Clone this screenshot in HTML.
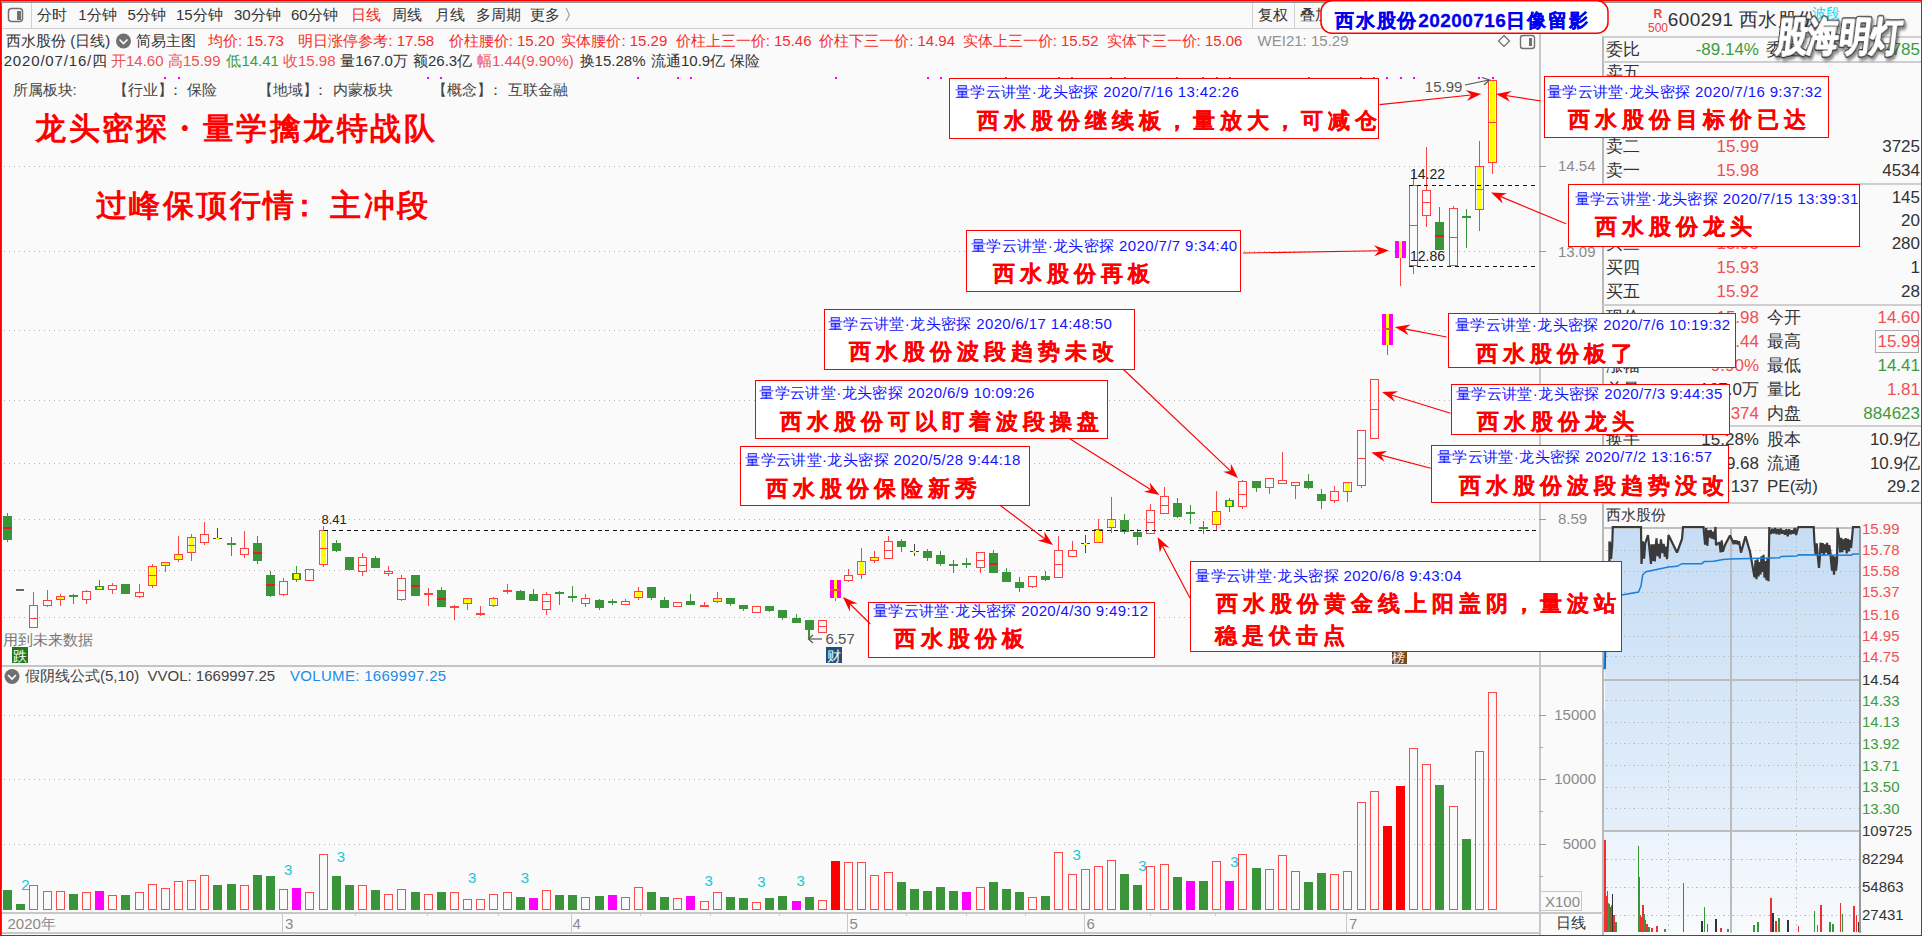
<!DOCTYPE html><html><head><meta charset="utf-8"><style>
html,body{margin:0;padding:0}body{width:1922px;height:936px;overflow:hidden;position:relative;background:#fafafa;font-family:"Liberation Sans",sans-serif}
.t{position:absolute;white-space:nowrap}
.bx{position:absolute;background:#fff;border:1px solid #ff0000;box-sizing:border-box}
svg{position:absolute;left:0;top:0}
</style></head><body>
<svg width="1922" height="936" viewBox="0 0 1922 936" shape-rendering="crispEdges">
<rect x="2" y="3" width="1918" height="26" fill="#f9f9f9"/>
<rect x="0" y="1" width="1922" height="2" fill="#8e9a9a"/>
<rect x="0" y="28" width="1540" height="1" fill="#cfcfcf"/>
<rect x="31" y="3" width="1" height="25" fill="#cfcfcf"/>
<rect x="1252" y="3" width="1" height="25" fill="#cfcfcf"/>
<rect x="1294" y="3" width="1" height="25" fill="#cfcfcf"/>
<rect x="8.5" y="8.5" width="14" height="13" rx="3" fill="none" stroke="#707070" stroke-width="1.5" shape-rendering="auto"/>
<rect x="17" y="11" width="3.5" height="8.5" fill="#707070"/>
<rect x="1539" y="29" width="2" height="907" fill="#c8c8c8"/>
<rect x="1602" y="36" width="1.5" height="900" fill="#b8b8b8"/>
<rect x="2" y="665" width="1602" height="1.5" fill="#c4c4c4"/>
<defs><pattern id="dots" x="4" y="0" width="5" height="10" patternUnits="userSpaceOnUse"><rect x="0" y="0" width="1.4" height="10" fill="#b4b4b4"/></pattern></defs>
<rect x="4" y="166" width="1533" height="1" fill="url(#dots)"/>
<rect x="1539" y="166" width="7" height="1" fill="#999"/>
<rect x="4" y="251" width="1533" height="1" fill="url(#dots)"/>
<rect x="1539" y="251" width="7" height="1" fill="#999"/>
<rect x="4" y="330" width="1533" height="1" fill="url(#dots)"/>
<rect x="1539" y="330" width="7" height="1" fill="#999"/>
<rect x="4" y="400" width="1533" height="1" fill="url(#dots)"/>
<rect x="1539" y="400" width="7" height="1" fill="#999"/>
<rect x="4" y="463" width="1533" height="1" fill="url(#dots)"/>
<rect x="1539" y="463" width="7" height="1" fill="#999"/>
<rect x="4" y="519" width="1533" height="1" fill="url(#dots)"/>
<rect x="1539" y="519" width="7" height="1" fill="#999"/>
<rect x="4" y="570" width="1533" height="1" fill="url(#dots)"/>
<rect x="1539" y="570" width="7" height="1" fill="#999"/>
<rect x="4" y="617" width="1533" height="1" fill="url(#dots)"/>
<rect x="1539" y="617" width="7" height="1" fill="#999"/>
<rect x="4" y="715" width="1533" height="1" fill="url(#dots)"/>
<rect x="1539" y="715" width="7" height="1" fill="#999"/>
<rect x="4" y="779" width="1533" height="1" fill="url(#dots)"/>
<rect x="1539" y="779" width="7" height="1" fill="#999"/>
<rect x="4" y="844" width="1533" height="1" fill="url(#dots)"/>
<rect x="1539" y="844" width="7" height="1" fill="#999"/>
<rect x="1539" y="747" width="4" height="1" fill="#aaa"/>
<rect x="1539" y="811" width="4" height="1" fill="#aaa"/>
<rect x="1539" y="876" width="4" height="1" fill="#aaa"/>
<rect x="2" y="912" width="1602" height="1.5" fill="#c8c8c8"/>
<rect x="2" y="932" width="1538" height="1.5" fill="#c8c8c8"/>
<rect x="282" y="913" width="1" height="19" fill="#c8c8c8"/>
<rect x="571" y="913" width="1" height="19" fill="#c8c8c8"/>
<rect x="847" y="913" width="1" height="19" fill="#c8c8c8"/>
<rect x="1084" y="913" width="1" height="19" fill="#c8c8c8"/>
<rect x="1346" y="913" width="1" height="19" fill="#c8c8c8"/>
<rect x="355" y="913" width="1" height="3" fill="#c8c8c8"/>
<rect x="427" y="913" width="1" height="3" fill="#c8c8c8"/>
<rect x="498" y="913" width="1" height="3" fill="#c8c8c8"/>
<rect x="640" y="913" width="1" height="3" fill="#c8c8c8"/>
<rect x="710" y="913" width="1" height="3" fill="#c8c8c8"/>
<rect x="779" y="913" width="1" height="3" fill="#c8c8c8"/>
<rect x="906" y="913" width="1" height="3" fill="#c8c8c8"/>
<rect x="966" y="913" width="1" height="3" fill="#c8c8c8"/>
<rect x="1025" y="913" width="1" height="3" fill="#c8c8c8"/>
<rect x="1150" y="913" width="1" height="3" fill="#c8c8c8"/>
<rect x="1215" y="913" width="1" height="3" fill="#c8c8c8"/>
<rect x="7" y="513" width="1" height="29" fill="#3a943a"/>
<rect x="3" y="516" width="9" height="24" fill="#3a943a"/>
<rect x="3" y="527" width="9" height="2" fill="#e02020"/>
<rect x="16" y="589" width="8" height="1.5" fill="#666"/>
<rect x="33" y="592" width="1" height="13" fill="#ff4040"/>
<rect x="29.5" y="605.5" width="8" height="22" fill="none" stroke="#ff4040"/>
<rect x="29" y="618" width="9" height="1" fill="#ff4040"/>
<rect x="47" y="590" width="1" height="10" fill="#ff4040"/>
<rect x="47" y="606" width="1" height="1" fill="#ff4040"/>
<rect x="43.5" y="600.5" width="8" height="5" fill="none" stroke="#ff4040"/>
<rect x="60" y="594" width="1" height="2" fill="#ff4040"/>
<rect x="60" y="600" width="1" height="6" fill="#ff4040"/>
<rect x="56.5" y="596.5" width="8" height="3" fill="#ffff00" stroke="#ff4040"/>
<rect x="73" y="594" width="1" height="10" fill="#3a943a"/>
<rect x="69" y="595" width="9" height="2" fill="#3a943a"/>
<rect x="86" y="590" width="1" height="1" fill="#ff4040"/>
<rect x="86" y="600" width="1" height="4" fill="#ff4040"/>
<rect x="82.5" y="591.5" width="8" height="8" fill="none" stroke="#ff4040"/>
<rect x="99" y="580" width="1" height="10" fill="#3a943a"/>
<rect x="95" y="586" width="9" height="4" fill="#3a943a"/>
<rect x="97" y="587" width="5" height="2" fill="#ffff00"/>
<rect x="112" y="583" width="1" height="2" fill="#ff4040"/>
<rect x="112" y="590" width="1" height="4" fill="#ff4040"/>
<rect x="108.5" y="585.5" width="8" height="4" fill="none" stroke="#ff4040"/>
<rect x="125" y="584" width="1" height="10" fill="#3a943a"/>
<rect x="121" y="584" width="9" height="10" fill="#3a943a"/>
<rect x="139" y="584" width="1" height="8" fill="#ff4040"/>
<rect x="139" y="597" width="1" height="1" fill="#ff4040"/>
<rect x="135.5" y="592.5" width="8" height="4" fill="none" stroke="#ff4040"/>
<rect x="152" y="564" width="1" height="2" fill="#ff4040"/>
<rect x="152" y="586" width="1" height="2" fill="#ff4040"/>
<rect x="148.5" y="566.5" width="8" height="19" fill="#fafafa" stroke="#ff4040"/>
<rect x="150" y="567" width="5" height="18" fill="#ffff00"/>
<rect x="148" y="575" width="9" height="1" fill="#ff4040"/>
<rect x="165" y="566" width="1" height="6" fill="#ff4040"/>
<rect x="161.5" y="562.5" width="8" height="3" fill="#ffff00" stroke="#ff4040"/>
<rect x="178" y="536" width="1" height="18" fill="#ff4040"/>
<rect x="178" y="560" width="1" height="2" fill="#ff4040"/>
<rect x="174.5" y="554.5" width="8" height="5" fill="#ffff00" stroke="#ff4040"/>
<rect x="191" y="534" width="1" height="3" fill="#ff4040"/>
<rect x="191" y="553" width="1" height="8" fill="#ff4040"/>
<rect x="187.5" y="537.5" width="8" height="15" fill="#fafafa" stroke="#ff4040"/>
<rect x="189" y="538" width="5" height="14" fill="#ffff00"/>
<rect x="187" y="545" width="9" height="1" fill="#ff4040"/>
<rect x="204" y="522" width="1" height="12" fill="#ff4040"/>
<rect x="204" y="543" width="1" height="2" fill="#ff4040"/>
<rect x="200.5" y="534.5" width="8" height="8" fill="none" stroke="#ff4040"/>
<rect x="217" y="528" width="1" height="11" fill="#444"/>
<rect x="213" y="538" width="9" height="1" fill="#444"/>
<rect x="216" y="537.5" width="3" height="2" fill="#ffff00"/>
<rect x="231" y="537" width="1" height="19" fill="#3a943a"/>
<rect x="227" y="543" width="9" height="2" fill="#3a943a"/>
<rect x="244" y="531" width="1" height="17" fill="#ff4040"/>
<rect x="244" y="555" width="1" height="3" fill="#ff4040"/>
<rect x="240.5" y="548.5" width="8" height="6" fill="none" stroke="#ff4040"/>
<rect x="257" y="536" width="1" height="28" fill="#3a943a"/>
<rect x="253" y="543" width="9" height="18" fill="#3a943a"/>
<rect x="253" y="552" width="9" height="2" fill="#e02020"/>
<rect x="270" y="571" width="1" height="26" fill="#3a943a"/>
<rect x="266" y="575" width="9" height="21" fill="#3a943a"/>
<rect x="266" y="584" width="9" height="2" fill="#e02020"/>
<rect x="283" y="578" width="1" height="3" fill="#ff4040"/>
<rect x="283" y="595" width="1" height="1" fill="#ff4040"/>
<rect x="279.5" y="581.5" width="8" height="13" fill="none" stroke="#ff4040"/>
<rect x="296" y="566" width="1" height="14" fill="#3a943a"/>
<rect x="296" y="580" width="1" height="2" fill="#3a943a"/>
<rect x="292" y="573" width="9" height="7" fill="#3a943a"/>
<rect x="294" y="574" width="5" height="5" fill="#ffff00"/>
<rect x="305.5" y="569.5" width="8" height="11" fill="none" stroke="#ff4040"/>
<rect x="323" y="526" width="1" height="4" fill="#ff4040"/>
<rect x="323" y="565" width="1" height="2" fill="#ff4040"/>
<rect x="319.5" y="530.5" width="8" height="34" fill="#fafafa" stroke="#ff4040"/>
<rect x="321" y="531" width="5" height="33" fill="#ffff00"/>
<rect x="319" y="548" width="9" height="1" fill="#ff4040"/>
<rect x="336" y="540" width="1" height="12" fill="#3a943a"/>
<rect x="332" y="543" width="9" height="8" fill="#3a943a"/>
<rect x="349" y="557" width="1" height="13" fill="#3a943a"/>
<rect x="345" y="557" width="9" height="13" fill="#3a943a"/>
<rect x="362" y="553" width="1" height="4" fill="#ff4040"/>
<rect x="362" y="572" width="1" height="4" fill="#ff4040"/>
<rect x="358.5" y="557.5" width="8" height="14" fill="none" stroke="#ff4040"/>
<rect x="358" y="565" width="9" height="1" fill="#ff4040"/>
<rect x="375" y="556" width="1" height="12" fill="#3a943a"/>
<rect x="371" y="558" width="9" height="10" fill="#3a943a"/>
<rect x="388" y="566" width="1" height="5" fill="#ff4040"/>
<rect x="388" y="574" width="1" height="2" fill="#ff4040"/>
<rect x="384.5" y="571.5" width="8" height="2" fill="none" stroke="#ff4040"/>
<rect x="401" y="575" width="1" height="3" fill="#ff4040"/>
<rect x="401" y="600" width="1" height="1" fill="#ff4040"/>
<rect x="397.5" y="578.5" width="8" height="21" fill="none" stroke="#ff4040"/>
<rect x="397" y="590" width="9" height="1" fill="#ff4040"/>
<rect x="415" y="575" width="1" height="21" fill="#3a943a"/>
<rect x="411" y="575" width="9" height="21" fill="#3a943a"/>
<rect x="411" y="585" width="9" height="2" fill="#e02020"/>
<rect x="428" y="588" width="1" height="18" fill="#ff4040"/>
<rect x="424" y="593" width="9" height="2" fill="#ff4040"/>
<rect x="441" y="587" width="1" height="20" fill="#3a943a"/>
<rect x="437" y="590" width="9" height="17" fill="#3a943a"/>
<rect x="437" y="598" width="9" height="2" fill="#e02020"/>
<rect x="454" y="605" width="1" height="15" fill="#ff4040"/>
<rect x="450" y="606" width="9" height="2" fill="#ff4040"/>
<rect x="467" y="604" width="1" height="6" fill="#ff4040"/>
<rect x="463.5" y="598.5" width="8" height="5" fill="#ffff00" stroke="#ff4040"/>
<rect x="480" y="606" width="1" height="10" fill="#ff4040"/>
<rect x="476" y="613" width="9" height="2" fill="#ff4040"/>
<rect x="493" y="597" width="1" height="1" fill="#ff4040"/>
<rect x="493" y="606" width="1" height="1" fill="#ff4040"/>
<rect x="489.5" y="598.5" width="8" height="7" fill="#fafafa" stroke="#ff4040"/>
<rect x="491" y="599" width="5" height="6" fill="#ffff00"/>
<rect x="507" y="584" width="1" height="6" fill="#ff4040"/>
<rect x="507" y="592" width="1" height="2" fill="#ff4040"/>
<rect x="503.5" y="590.5" width="8" height="1" fill="#ffff00" stroke="#ff4040"/>
<rect x="520" y="590" width="1" height="10" fill="#3a943a"/>
<rect x="516" y="591" width="9" height="9" fill="#3a943a"/>
<rect x="533" y="589" width="1" height="12" fill="#3a943a"/>
<rect x="529" y="594" width="9" height="7" fill="#3a943a"/>
<rect x="546" y="592" width="1" height="2" fill="#ff4040"/>
<rect x="546" y="610" width="1" height="5" fill="#ff4040"/>
<rect x="542.5" y="594.5" width="8" height="15" fill="none" stroke="#ff4040"/>
<rect x="542" y="601" width="9" height="1" fill="#ff4040"/>
<rect x="559" y="591" width="1" height="14" fill="#3a943a"/>
<rect x="555" y="592" width="9" height="2" fill="#3a943a"/>
<rect x="572" y="586" width="1" height="16" fill="#3a943a"/>
<rect x="568" y="596" width="9" height="2" fill="#3a943a"/>
<rect x="585" y="594" width="1" height="4" fill="#ff4040"/>
<rect x="585" y="604" width="1" height="3" fill="#ff4040"/>
<rect x="581.5" y="598.5" width="8" height="5" fill="none" stroke="#ff4040"/>
<rect x="599" y="599" width="1" height="11" fill="#3a943a"/>
<rect x="595" y="600" width="9" height="8" fill="#3a943a"/>
<rect x="612" y="599" width="1" height="6" fill="#3a943a"/>
<rect x="608" y="601" width="9" height="2" fill="#3a943a"/>
<rect x="625" y="599" width="1" height="2" fill="#ff4040"/>
<rect x="621.5" y="601.5" width="8" height="3" fill="none" stroke="#ff4040"/>
<rect x="638" y="587" width="1" height="4" fill="#ff4040"/>
<rect x="638" y="598" width="1" height="2" fill="#ff4040"/>
<rect x="634.5" y="591.5" width="8" height="6" fill="#fafafa" stroke="#ff4040"/>
<rect x="636" y="592" width="5" height="5" fill="#ffff00"/>
<rect x="651" y="587" width="1" height="13" fill="#3a943a"/>
<rect x="647" y="587" width="9" height="11" fill="#3a943a"/>
<rect x="664" y="597" width="1" height="11" fill="#3a943a"/>
<rect x="660" y="600" width="9" height="8" fill="#3a943a"/>
<rect x="673.5" y="602.5" width="8" height="4" fill="none" stroke="#ff4040"/>
<rect x="690" y="594" width="1" height="11" fill="#3a943a"/>
<rect x="686" y="601" width="9" height="4" fill="#3a943a"/>
<rect x="704" y="602" width="1" height="3" fill="#ff4040"/>
<rect x="700.5" y="605.5" width="8" height="1" fill="none" stroke="#ff4040"/>
<rect x="717" y="592" width="1" height="6" fill="#ff4040"/>
<rect x="717" y="602" width="1" height="1" fill="#ff4040"/>
<rect x="713.5" y="598.5" width="8" height="3" fill="#ffff00" stroke="#ff4040"/>
<rect x="730" y="598" width="1" height="8" fill="#3a943a"/>
<rect x="726" y="598" width="9" height="6" fill="#3a943a"/>
<rect x="743" y="605" width="1" height="6" fill="#3a943a"/>
<rect x="739" y="605" width="9" height="4" fill="#3a943a"/>
<rect x="752.5" y="606.5" width="8" height="6" fill="none" stroke="#ff4040"/>
<rect x="769" y="606" width="1" height="6" fill="#3a943a"/>
<rect x="765" y="606" width="9" height="5" fill="#3a943a"/>
<rect x="782" y="610" width="1" height="10" fill="#3a943a"/>
<rect x="778" y="610" width="9" height="8" fill="#3a943a"/>
<rect x="796" y="614" width="1" height="9" fill="#3a943a"/>
<rect x="792" y="618" width="9" height="5" fill="#3a943a"/>
<rect x="809" y="620" width="1" height="18" fill="#3a943a"/>
<rect x="805" y="620" width="9" height="10" fill="#3a943a"/>
<rect x="818.5" y="620.5" width="8" height="12" fill="none" stroke="#ff4040"/>
<rect x="818" y="626" width="9" height="1" fill="#ff4040"/>
<rect x="835" y="598" width="1" height="3" fill="#ff4040"/>
<rect x="830" y="580" width="11" height="18" fill="#ff00ff"/>
<rect x="834" y="580" width="3" height="18" fill="#ffff00"/>
<rect x="830" y="589" width="11" height="1.5" fill="#ff4040"/>
<rect x="848" y="569" width="1" height="6" fill="#ff4040"/>
<rect x="848" y="581" width="1" height="1" fill="#ff4040"/>
<rect x="844.5" y="575.5" width="8" height="5" fill="none" stroke="#ff4040"/>
<rect x="861" y="548" width="1" height="13" fill="#ff4040"/>
<rect x="861" y="575" width="1" height="4" fill="#ff4040"/>
<rect x="857.5" y="561.5" width="8" height="13" fill="#fafafa" stroke="#ff4040"/>
<rect x="859" y="562" width="5" height="12" fill="#ffff00"/>
<rect x="874" y="551" width="1" height="6" fill="#ff4040"/>
<rect x="874" y="561" width="1" height="2" fill="#ff4040"/>
<rect x="870.5" y="557.5" width="8" height="3" fill="#ffff00" stroke="#ff4040"/>
<rect x="888" y="536" width="1" height="5" fill="#ff4040"/>
<rect x="884.5" y="541.5" width="8" height="17" fill="none" stroke="#ff4040"/>
<rect x="884" y="550" width="9" height="1" fill="#ff4040"/>
<rect x="901" y="539" width="1" height="13" fill="#3a943a"/>
<rect x="897" y="541" width="9" height="6" fill="#3a943a"/>
<rect x="914" y="544" width="1" height="12" fill="#444"/>
<rect x="910" y="551" width="9" height="1" fill="#444"/>
<rect x="913" y="550.5" width="3" height="2" fill="#ffff00"/>
<rect x="927" y="549" width="1" height="12" fill="#3a943a"/>
<rect x="923" y="551" width="9" height="7" fill="#3a943a"/>
<rect x="940" y="551" width="1" height="15" fill="#3a943a"/>
<rect x="936" y="555" width="9" height="9" fill="#3a943a"/>
<rect x="953" y="560" width="1" height="13" fill="#3a943a"/>
<rect x="949" y="564" width="9" height="2" fill="#3a943a"/>
<rect x="966" y="558" width="1" height="10" fill="#3a943a"/>
<rect x="962" y="563" width="9" height="2" fill="#3a943a"/>
<rect x="980" y="568" width="1" height="5" fill="#ff4040"/>
<rect x="976.5" y="552.5" width="8" height="15" fill="none" stroke="#ff4040"/>
<rect x="976" y="560" width="9" height="1" fill="#ff4040"/>
<rect x="993" y="550" width="1" height="23" fill="#3a943a"/>
<rect x="989" y="553" width="9" height="20" fill="#3a943a"/>
<rect x="989" y="563" width="9" height="2" fill="#e02020"/>
<rect x="1006" y="568" width="1" height="14" fill="#3a943a"/>
<rect x="1002" y="572" width="9" height="10" fill="#3a943a"/>
<rect x="1019" y="577" width="1" height="15" fill="#3a943a"/>
<rect x="1015" y="582" width="9" height="6" fill="#3a943a"/>
<rect x="1032" y="587" width="1" height="1" fill="#ff4040"/>
<rect x="1028.5" y="576.5" width="8" height="10" fill="none" stroke="#ff4040"/>
<rect x="1045" y="571" width="1" height="10" fill="#3a943a"/>
<rect x="1041" y="576" width="9" height="4" fill="#3a943a"/>
<rect x="1058" y="536" width="1" height="14" fill="#ff4040"/>
<rect x="1054.5" y="550.5" width="8" height="27" fill="none" stroke="#ff4040"/>
<rect x="1054" y="564" width="9" height="1" fill="#ff4040"/>
<rect x="1072" y="541" width="1" height="9" fill="#ff4040"/>
<rect x="1068.5" y="550.5" width="8" height="6" fill="none" stroke="#ff4040"/>
<rect x="1085" y="535" width="1" height="18" fill="#444"/>
<rect x="1081" y="543" width="9" height="1" fill="#444"/>
<rect x="1084" y="542.5" width="3" height="2" fill="#ffff00"/>
<rect x="1098" y="519" width="1" height="10" fill="#ff4040"/>
<rect x="1094.5" y="529.5" width="8" height="13" fill="#fafafa" stroke="#ff4040"/>
<rect x="1096" y="530" width="5" height="12" fill="#ffff00"/>
<rect x="1111" y="497" width="1" height="22" fill="#ff4040"/>
<rect x="1111" y="528" width="1" height="5" fill="#ff4040"/>
<rect x="1107.5" y="519.5" width="8" height="8" fill="#fafafa" stroke="#ff4040"/>
<rect x="1109" y="520" width="5" height="7" fill="#ffff00"/>
<rect x="1124" y="514" width="1" height="20" fill="#3a943a"/>
<rect x="1120" y="520" width="9" height="12" fill="#3a943a"/>
<rect x="1137" y="529" width="1" height="16" fill="#3a943a"/>
<rect x="1133" y="532" width="9" height="5" fill="#3a943a"/>
<rect x="1150" y="504" width="1" height="6" fill="#ff4040"/>
<rect x="1146.5" y="510.5" width="8" height="23" fill="none" stroke="#ff4040"/>
<rect x="1146" y="522" width="9" height="1" fill="#ff4040"/>
<rect x="1164" y="487" width="1" height="9" fill="#ff4040"/>
<rect x="1160.5" y="496.5" width="8" height="17" fill="none" stroke="#ff4040"/>
<rect x="1160" y="505" width="9" height="1" fill="#ff4040"/>
<rect x="1177" y="498" width="1" height="20" fill="#3a943a"/>
<rect x="1173" y="503" width="9" height="14" fill="#3a943a"/>
<rect x="1190" y="505" width="1" height="19" fill="#3a943a"/>
<rect x="1186" y="512" width="9" height="2" fill="#3a943a"/>
<rect x="1203" y="521" width="1" height="13" fill="#3a943a"/>
<rect x="1199" y="527" width="9" height="2" fill="#3a943a"/>
<rect x="1216" y="491" width="1" height="20" fill="#ff4040"/>
<rect x="1216" y="525" width="1" height="5" fill="#ff4040"/>
<rect x="1212.5" y="511.5" width="8" height="13" fill="#fafafa" stroke="#ff4040"/>
<rect x="1214" y="512" width="5" height="12" fill="#ffff00"/>
<rect x="1229" y="498" width="1" height="9" fill="#3a943a"/>
<rect x="1229" y="507" width="1" height="5" fill="#3a943a"/>
<rect x="1225" y="500" width="9" height="7" fill="#3a943a"/>
<rect x="1227" y="501" width="5" height="5" fill="#ffff00"/>
<rect x="1242" y="480" width="1" height="1" fill="#ff4040"/>
<rect x="1242" y="507" width="1" height="2" fill="#ff4040"/>
<rect x="1238.5" y="481.5" width="8" height="25" fill="none" stroke="#ff4040"/>
<rect x="1238" y="494" width="9" height="1" fill="#ff4040"/>
<rect x="1256" y="481" width="1" height="11" fill="#3a943a"/>
<rect x="1252" y="481" width="9" height="7" fill="#3a943a"/>
<rect x="1269" y="488" width="1" height="6" fill="#ff4040"/>
<rect x="1265.5" y="478.5" width="8" height="9" fill="none" stroke="#ff4040"/>
<rect x="1282" y="452" width="1" height="28" fill="#ff4040"/>
<rect x="1278.5" y="480.5" width="8" height="3" fill="none" stroke="#ff4040"/>
<rect x="1295" y="486" width="1" height="13" fill="#ff4040"/>
<rect x="1291.5" y="482.5" width="8" height="3" fill="none" stroke="#ff4040"/>
<rect x="1308" y="474" width="1" height="15" fill="#3a943a"/>
<rect x="1304" y="481" width="9" height="7" fill="#3a943a"/>
<rect x="1321" y="489" width="1" height="20" fill="#3a943a"/>
<rect x="1317" y="494" width="9" height="7" fill="#3a943a"/>
<rect x="1334" y="486" width="1" height="5" fill="#ff4040"/>
<rect x="1334" y="501" width="1" height="2" fill="#ff4040"/>
<rect x="1330.5" y="491.5" width="8" height="9" fill="none" stroke="#ff4040"/>
<rect x="1347" y="492" width="1" height="10" fill="#ff4040"/>
<rect x="1343.5" y="482.5" width="8" height="9" fill="#fafafa" stroke="#ff4040"/>
<rect x="1345" y="483" width="5" height="8" fill="#ffff00"/>
<rect x="1361" y="486" width="1" height="2" fill="#ff4040"/>
<rect x="1357.5" y="430.5" width="8" height="55" fill="none" stroke="#ff4040"/>
<rect x="1357" y="458" width="9" height="1" fill="#ff4040"/>
<rect x="1370.5" y="379.5" width="8" height="59" fill="none" stroke="#ff4040"/>
<rect x="1370" y="409" width="9" height="1" fill="#ff4040"/>
<rect x="1387" y="345" width="1" height="10" fill="#ff4040"/>
<rect x="1382" y="314" width="11" height="31" fill="#ff00ff"/>
<rect x="1386" y="314" width="3" height="31" fill="#ffff00"/>
<rect x="1382" y="328" width="11" height="1.5" fill="#ff4040"/>
<rect x="1400" y="258" width="1" height="28" fill="#ff4040"/>
<rect x="1395" y="241" width="11" height="17" fill="#ff00ff"/>
<rect x="1399" y="241" width="3" height="17" fill="#ffff00"/>
<rect x="1413" y="172" width="1" height="13" fill="#ff4040"/>
<rect x="1413" y="266" width="1" height="8" fill="#ff4040"/>
<rect x="1409.5" y="185.5" width="8" height="80" fill="none" stroke="#ff4040"/>
<rect x="1409" y="225" width="9" height="1" fill="#ff4040"/>
<rect x="1426" y="147" width="1" height="43" fill="#ff4040"/>
<rect x="1426" y="216" width="1" height="11" fill="#ff4040"/>
<rect x="1422.5" y="190.5" width="8" height="25" fill="none" stroke="#ff4040"/>
<rect x="1422" y="202" width="9" height="1" fill="#ff4040"/>
<rect x="1439" y="207" width="1" height="43" fill="#3a943a"/>
<rect x="1435" y="222" width="9" height="28" fill="#3a943a"/>
<rect x="1435" y="235" width="9" height="2" fill="#e02020"/>
<rect x="1453" y="206" width="1" height="2" fill="#ff4040"/>
<rect x="1449.5" y="208.5" width="8" height="57" fill="none" stroke="#ff4040"/>
<rect x="1449" y="237" width="9" height="1" fill="#ff4040"/>
<rect x="1466" y="209" width="1" height="39" fill="#3a943a"/>
<rect x="1462" y="216" width="9" height="2" fill="#3a943a"/>
<rect x="1479" y="141" width="1" height="25" fill="#ff4040"/>
<rect x="1479" y="210" width="1" height="21" fill="#ff4040"/>
<rect x="1475.5" y="166.5" width="8" height="43" fill="#fafafa" stroke="#ff4040"/>
<rect x="1477" y="167" width="5" height="42" fill="#ffff00"/>
<rect x="1475" y="189" width="9" height="1" fill="#ff4040"/>
<rect x="1492" y="163" width="1" height="11" fill="#ff4040"/>
<rect x="1488.5" y="80.5" width="8" height="82" fill="#fafafa" stroke="#ff4040"/>
<rect x="1490" y="81" width="5" height="81" fill="#ffff00"/>
<rect x="1488" y="122" width="9" height="1" fill="#ff4040"/>
<line x1="324" y1="530.5" x2="1537" y2="530.5" stroke="#111" stroke-width="1.3" stroke-dasharray="4,3.6"/>
<line x1="1409" y1="185.5" x2="1537" y2="185.5" stroke="#111" stroke-width="1.3" stroke-dasharray="4,3.6"/>
<line x1="1409" y1="266.5" x2="1537" y2="266.5" stroke="#111" stroke-width="1.3" stroke-dasharray="4,3.6"/>
<rect x="164" y="77" width="2" height="2" fill="#ff00ff"/>
<rect x="178" y="77" width="2" height="2" fill="#ff00ff"/>
<rect x="427" y="77" width="2" height="2" fill="#ff00ff"/>
<rect x="440" y="77" width="2" height="2" fill="#ff00ff"/>
<rect x="637" y="77" width="2" height="2" fill="#ff00ff"/>
<rect x="677" y="77" width="2" height="2" fill="#ff00ff"/>
<rect x="690" y="77" width="2" height="2" fill="#ff00ff"/>
<rect x="835" y="77" width="2" height="2" fill="#ff00ff"/>
<rect x="927" y="77" width="2" height="2" fill="#ff00ff"/>
<rect x="940" y="77" width="2" height="2" fill="#ff00ff"/>
<rect x="1005" y="77" width="2" height="2" fill="#ff00ff"/>
<rect x="1058" y="77" width="2" height="2" fill="#ff00ff"/>
<rect x="1071" y="77" width="2" height="2" fill="#ff00ff"/>
<rect x="1110" y="77" width="2" height="2" fill="#ff00ff"/>
<rect x="1124" y="77" width="2" height="2" fill="#ff00ff"/>
<rect x="1176" y="77" width="2" height="2" fill="#ff00ff"/>
<rect x="1202" y="77" width="2" height="2" fill="#ff00ff"/>
<rect x="1216" y="77" width="2" height="2" fill="#ff00ff"/>
<rect x="1229" y="77" width="2" height="2" fill="#ff00ff"/>
<rect x="1308" y="77" width="2" height="2" fill="#ff00ff"/>
<rect x="1360" y="77" width="2" height="2" fill="#ff00ff"/>
<rect x="1373" y="77" width="2" height="2" fill="#ff00ff"/>
<rect x="1386" y="77" width="2" height="2" fill="#ff00ff"/>
<rect x="1400" y="77" width="2" height="2" fill="#ff00ff"/>
<rect x="1413" y="77" width="2" height="2" fill="#ff00ff"/>
<rect x="1478" y="77" width="2" height="2" fill="#ff00ff"/>
<rect x="1492" y="77" width="2" height="2" fill="#ff00ff"/>
<rect x="3" y="890" width="9" height="20" fill="#3a943a"/>
<rect x="16" y="904" width="9" height="6" fill="#3a943a"/>
<rect x="29.5" y="885.5" width="8" height="24" fill="none" stroke="#ff4a4a"/>
<rect x="43.5" y="891.5" width="8" height="18" fill="none" stroke="#ff4a4a"/>
<rect x="56.5" y="891.5" width="8" height="18" fill="none" stroke="#ff4a4a"/>
<rect x="69" y="894" width="9" height="16" fill="#3a943a"/>
<rect x="82.5" y="892.5" width="8" height="17" fill="none" stroke="#ff4a4a"/>
<rect x="95" y="891" width="9" height="19" fill="#ff00ff"/>
<rect x="108.5" y="895.5" width="8" height="14" fill="none" stroke="#ff4a4a"/>
<rect x="121" y="895" width="9" height="15" fill="#3a943a"/>
<rect x="135.5" y="892.5" width="8" height="17" fill="none" stroke="#ff4a4a"/>
<rect x="148.5" y="884.5" width="8" height="25" fill="none" stroke="#ff4a4a"/>
<rect x="161.5" y="888.5" width="8" height="21" fill="none" stroke="#ff4a4a"/>
<rect x="174.5" y="881.5" width="8" height="28" fill="none" stroke="#ff4a4a"/>
<rect x="187.5" y="880.5" width="8" height="29" fill="none" stroke="#ff4a4a"/>
<rect x="200.5" y="875.5" width="8" height="34" fill="none" stroke="#ff4a4a"/>
<rect x="213" y="885" width="9" height="25" fill="#3a943a"/>
<rect x="227" y="884" width="9" height="26" fill="#3a943a"/>
<rect x="240.5" y="885.5" width="8" height="24" fill="none" stroke="#ff4a4a"/>
<rect x="253" y="875" width="9" height="35" fill="#3a943a"/>
<rect x="266" y="876" width="9" height="34" fill="#3a943a"/>
<rect x="279.5" y="889.5" width="8" height="20" fill="none" stroke="#ff4a4a"/>
<rect x="292" y="888" width="9" height="22" fill="#ff00ff"/>
<rect x="305.5" y="892.5" width="8" height="17" fill="none" stroke="#ff4a4a"/>
<rect x="319.5" y="854.5" width="8" height="55" fill="none" stroke="#ff4a4a"/>
<rect x="332" y="876" width="9" height="34" fill="#3a943a"/>
<rect x="345" y="885" width="9" height="25" fill="#3a943a"/>
<rect x="358.5" y="885.5" width="8" height="24" fill="none" stroke="#ff4a4a"/>
<rect x="371" y="890" width="9" height="20" fill="#3a943a"/>
<rect x="384.5" y="894.5" width="8" height="15" fill="none" stroke="#ff4a4a"/>
<rect x="397.5" y="889.5" width="8" height="20" fill="none" stroke="#ff4a4a"/>
<rect x="411" y="892" width="9" height="18" fill="#3a943a"/>
<rect x="424.5" y="894.5" width="8" height="15" fill="none" stroke="#ff4a4a"/>
<rect x="437" y="892" width="9" height="18" fill="#3a943a"/>
<rect x="450.5" y="892.5" width="8" height="17" fill="none" stroke="#ff4a4a"/>
<rect x="463.5" y="899.5" width="8" height="10" fill="none" stroke="#ff4a4a"/>
<rect x="476.5" y="899.5" width="8" height="10" fill="none" stroke="#ff4a4a"/>
<rect x="489.5" y="894.5" width="8" height="15" fill="none" stroke="#ff4a4a"/>
<rect x="503.5" y="892.5" width="8" height="17" fill="none" stroke="#ff4a4a"/>
<rect x="516" y="897" width="9" height="13" fill="#3a943a"/>
<rect x="529" y="898" width="9" height="12" fill="#ff00ff"/>
<rect x="542.5" y="890.5" width="8" height="19" fill="none" stroke="#ff4a4a"/>
<rect x="555" y="895" width="9" height="15" fill="#3a943a"/>
<rect x="568" y="895" width="9" height="15" fill="#3a943a"/>
<rect x="581.5" y="897.5" width="8" height="12" fill="none" stroke="#ff4a4a"/>
<rect x="595" y="896" width="9" height="14" fill="#3a943a"/>
<rect x="608" y="895" width="9" height="15" fill="#ff00ff"/>
<rect x="621.5" y="897.5" width="8" height="12" fill="none" stroke="#ff4a4a"/>
<rect x="634.5" y="887.5" width="8" height="22" fill="none" stroke="#ff4a4a"/>
<rect x="647" y="892" width="9" height="18" fill="#3a943a"/>
<rect x="660" y="897" width="9" height="13" fill="#3a943a"/>
<rect x="673.5" y="898.5" width="8" height="11" fill="none" stroke="#ff4a4a"/>
<rect x="686" y="896" width="9" height="14" fill="#ff00ff"/>
<rect x="700.5" y="901.5" width="8" height="8" fill="none" stroke="#ff4a4a"/>
<rect x="713.5" y="892.5" width="8" height="17" fill="none" stroke="#ff4a4a"/>
<rect x="726" y="897" width="9" height="13" fill="#3a943a"/>
<rect x="739" y="898" width="9" height="12" fill="#3a943a"/>
<rect x="752.5" y="902.5" width="8" height="7" fill="none" stroke="#ff4a4a"/>
<rect x="765" y="898" width="9" height="12" fill="#3a943a"/>
<rect x="778" y="896" width="9" height="14" fill="#3a943a"/>
<rect x="792" y="901" width="9" height="9" fill="#ff00ff"/>
<rect x="805" y="897" width="9" height="13" fill="#3a943a"/>
<rect x="818.5" y="900.5" width="8" height="9" fill="none" stroke="#ff4a4a"/>
<rect x="831" y="861" width="9" height="49" fill="#ff0000"/>
<rect x="844.5" y="862.5" width="8" height="47" fill="none" stroke="#ff4a4a"/>
<rect x="857.5" y="862.5" width="8" height="47" fill="none" stroke="#ff4a4a"/>
<rect x="870.5" y="875.5" width="8" height="34" fill="none" stroke="#ff4a4a"/>
<rect x="884.5" y="872.5" width="8" height="37" fill="none" stroke="#ff4a4a"/>
<rect x="897" y="882" width="9" height="28" fill="#3a943a"/>
<rect x="910" y="889" width="9" height="21" fill="#3a943a"/>
<rect x="923" y="891" width="9" height="19" fill="#3a943a"/>
<rect x="936" y="887" width="9" height="23" fill="#3a943a"/>
<rect x="949" y="891" width="9" height="19" fill="#3a943a"/>
<rect x="962" y="892" width="9" height="18" fill="#ff00ff"/>
<rect x="976.5" y="887.5" width="8" height="22" fill="none" stroke="#ff4a4a"/>
<rect x="989" y="882" width="9" height="28" fill="#3a943a"/>
<rect x="1002" y="889" width="9" height="21" fill="#3a943a"/>
<rect x="1015" y="892" width="9" height="18" fill="#3a943a"/>
<rect x="1028.5" y="897.5" width="8" height="12" fill="none" stroke="#ff4a4a"/>
<rect x="1041" y="896" width="9" height="14" fill="#3a943a"/>
<rect x="1054.5" y="852.5" width="8" height="57" fill="none" stroke="#ff4a4a"/>
<rect x="1068.5" y="874.5" width="8" height="35" fill="none" stroke="#ff4a4a"/>
<rect x="1081.5" y="869.5" width="8" height="40" fill="none" stroke="#ff4a4a"/>
<rect x="1094.5" y="866.5" width="8" height="43" fill="none" stroke="#ff4a4a"/>
<rect x="1107.5" y="860.5" width="8" height="49" fill="none" stroke="#ff4a4a"/>
<rect x="1120" y="874" width="9" height="36" fill="#3a943a"/>
<rect x="1133" y="885" width="9" height="25" fill="#3a943a"/>
<rect x="1146.5" y="866.5" width="8" height="43" fill="none" stroke="#ff4a4a"/>
<rect x="1160.5" y="864.5" width="8" height="45" fill="none" stroke="#ff4a4a"/>
<rect x="1173" y="877" width="9" height="33" fill="#3a943a"/>
<rect x="1186" y="881" width="9" height="29" fill="#ff00ff"/>
<rect x="1199" y="881" width="9" height="29" fill="#3a943a"/>
<rect x="1212.5" y="861.5" width="8" height="48" fill="none" stroke="#ff4a4a"/>
<rect x="1225" y="881" width="9" height="29" fill="#ff00ff"/>
<rect x="1238.5" y="854.5" width="8" height="55" fill="none" stroke="#ff4a4a"/>
<rect x="1252" y="868" width="9" height="42" fill="#3a943a"/>
<rect x="1265.5" y="869.5" width="8" height="40" fill="none" stroke="#ff4a4a"/>
<rect x="1278.5" y="855.5" width="8" height="54" fill="none" stroke="#ff4a4a"/>
<rect x="1291.5" y="871.5" width="8" height="38" fill="none" stroke="#ff4a4a"/>
<rect x="1304" y="882" width="9" height="28" fill="#3a943a"/>
<rect x="1317" y="873" width="9" height="37" fill="#3a943a"/>
<rect x="1330.5" y="874.5" width="8" height="35" fill="none" stroke="#ff4a4a"/>
<rect x="1343.5" y="871.5" width="8" height="38" fill="none" stroke="#ff4a4a"/>
<rect x="1357.5" y="802.5" width="8" height="107" fill="none" stroke="#ff4a4a"/>
<rect x="1370.5" y="791.5" width="8" height="118" fill="none" stroke="#ff4a4a"/>
<rect x="1383" y="826" width="9" height="84" fill="#ff0000"/>
<rect x="1396" y="786" width="9" height="124" fill="#ff0000"/>
<rect x="1409.5" y="748.5" width="8" height="161" fill="none" stroke="#ff4a4a"/>
<rect x="1422.5" y="764.5" width="8" height="145" fill="none" stroke="#ff4a4a"/>
<rect x="1435" y="785" width="9" height="125" fill="#3a943a"/>
<rect x="1449.5" y="806.5" width="8" height="103" fill="none" stroke="#ff4a4a"/>
<rect x="1462" y="839" width="9" height="71" fill="#3a943a"/>
<rect x="1475.5" y="751.5" width="8" height="158" fill="none" stroke="#ff4a4a"/>
<rect x="1488.5" y="692.5" width="8" height="217" fill="none" stroke="#ff4a4a"/>
<rect x="12" y="647" width="16" height="16" fill="#1f7a1f"/>
<rect x="826" y="647" width="16" height="16" fill="#1d4f80"/>
<rect x="1392" y="650" width="15" height="14" fill="#7a4a1a"/>
<circle cx="123.5" cy="41" r="7.5" fill="#707070" shape-rendering="auto"/>
<path d="M119.5 39.5 L123.5 43.5 L127.5 39.5" fill="none" stroke="#fff" stroke-width="1.6" shape-rendering="auto"/>
<circle cx="12" cy="676.5" r="7.5" fill="#707070" shape-rendering="auto"/>
<path d="M8 675 L12 679 L16 675" fill="none" stroke="#fff" stroke-width="1.6" shape-rendering="auto"/>
<path d="M1504 35.5 L1509.5 41 L1504 46.5 L1498.5 41 Z" fill="none" stroke="#666" stroke-width="1.1" shape-rendering="auto"/>
<rect x="1520.5" y="35.5" width="14" height="13" rx="2.5" fill="none" stroke="#707070" stroke-width="1.4" shape-rendering="auto"/>
<rect x="1529" y="38" width="3" height="8" fill="#707070"/>
<path d="M1465 85 L1489 80" stroke="#555" stroke-width="1.2" fill="none" shape-rendering="auto"/>
<path d="M1482 77.5 L1489.5 80 L1484 85" stroke="#555" stroke-width="1.2" fill="none" shape-rendering="auto"/>
<path d="M808.5 639 L822 639" stroke="#555" stroke-width="1.2" fill="none" shape-rendering="auto"/>
<path d="M813 635 L808.5 639 L813 643" stroke="#555" stroke-width="1.2" fill="none" shape-rendering="auto"/>
<rect x="808" y="630" width="1" height="8" fill="#3a943a"/>
</svg>
<svg width="1922" height="936" viewBox="0 0 1922 936" shape-rendering="crispEdges">
<rect x="1603" y="36" width="318" height="1.5" fill="#cfcfcf"/>
<rect x="1603" y="61" width="318" height="1.5" fill="#cfcfcf"/>
<rect x="1603" y="183" width="318" height="1.5" fill="#cfcfcf"/>
<rect x="1603" y="304" width="318" height="1.5" fill="#cfcfcf"/>
<rect x="1603" y="425" width="318" height="1.5" fill="#cfcfcf"/>
<rect x="1603" y="502" width="318" height="1.5" fill="#cfcfcf"/>
<rect x="1875.5" y="330.5" width="43" height="22" fill="none" stroke="#aaa"/>
<defs><linearGradient id="gp" x1="0" y1="0" x2="0" y2="1"><stop offset="0" stop-color="#c6ddf5"/><stop offset="1" stop-color="#e4effa"/></linearGradient><linearGradient id="gv" x1="0" y1="0" x2="0" y2="1"><stop offset="0" stop-color="#ebf3fc"/><stop offset="1" stop-color="#f8fafc"/></linearGradient></defs>
<polygon points="1604,830 1604.7,669.0 1606.0,620.0 1608.5,575.0 1609.4,560.3 1609.4,541.5 1610.0,543.2 1611.1,559.0 1612.2,545.3 1612.8,527.0 1641.0,527.0 1641.5,564.0 1643.0,541.2 1644.1,558.7 1645.2,543.5 1648.0,535.0 1651.0,564.0 1651.5,544.4 1652.6,560.9 1653.7,544.3 1654.8,561.5 1655.9,544.5 1656.5,538.3 1657.6,556.2 1658.7,543.9 1659.8,558.5 1660.9,539.3 1661.5,544.3 1662.6,553.0 1663.7,543.9 1664.8,556.7 1665.9,546.6 1667.0,559.1 1668.5,535.0 1677.0,552.6 1682.0,539.0 1683.0,527.0 1703.5,527.0 1704.0,532.9 1705.1,544.6 1706.2,528.0 1707.3,545.8 1708.5,530.3 1709.6,537.6 1710.7,529.8 1711.8,538.6 1712.9,531.7 1714.0,539.4 1715.5,527.0 1716.0,545.0 1719.5,542.4 1720.6,552.3 1721.7,540.3 1722.8,551.7 1725.0,545.0 1730.0,535.5 1732.5,541.0 1733.6,544.2 1734.7,540.4 1735.8,543.9 1736.9,540.6 1738.0,544.5 1739.1,541.2 1741.0,552.6 1745.5,536.4 1750.0,551.8 1754.5,577.4 1755.5,560.4 1756.5,579.3 1757.5,559.2 1758.5,576.5 1759.5,562.1 1760.5,574.5 1761.5,556.3 1762.5,572.0 1763.5,554.7 1764.5,577.6 1765.5,561.0 1766.5,580.2 1767.5,558.3 1768.5,581.3 1769.3,527.0 1769.5,529.2 1770.9,533.9 1772.3,528.9 1773.7,533.5 1775.1,528.0 1776.5,534.1 1777.9,529.0 1779.3,534.5 1780.7,528.5 1782.1,533.6 1783.5,530.1 1784.9,534.8 1786.3,529.2 1787.7,536.2 1789.1,529.3 1790.5,534.3 1791.9,530.3 1793.3,533.7 1794.7,527.9 1796.1,535.1 1797.5,529.2 1798.4,527.0 1813.7,527.0 1814.5,543.2 1814.5,542.5 1815.6,554.6 1816.7,543.3 1817.8,556.3 1819.0,568.0 1820.0,556.0 1820.5,542.7 1821.6,553.0 1822.7,543.1 1823.8,555.6 1824.9,544.4 1826.0,552.5 1827.1,542.8 1828.2,554.6 1829.3,545.2 1830.4,552.4 1831.0,560.6 1832.0,570.7 1833.0,555.9 1834.0,574.6 1835.0,556.6 1836.0,570.6 1837.0,561.8 1837.5,527.8 1839.0,537.3 1840.1,552.4 1841.2,537.8 1842.3,552.1 1843.4,539.3 1844.5,550.0 1845.6,538.0 1846.7,553.5 1847.8,538.9 1848.9,551.3 1850.0,539.8 1851.1,547.8 1853.0,527.0 1860.0,527.0 1859,830" fill="url(#gp)"/>
<rect x="1604" y="830" width="255" height="103" fill="url(#gv)"/>
<line x1="1606" y1="550.5" x2="1859" y2="550.5" stroke="#c0c0c0" stroke-width="1" stroke-dasharray="1.5,3"/>
<line x1="1606" y1="571.5" x2="1859" y2="571.5" stroke="#c0c0c0" stroke-width="1" stroke-dasharray="1.5,3"/>
<line x1="1606" y1="592.5" x2="1859" y2="592.5" stroke="#c0c0c0" stroke-width="1" stroke-dasharray="1.5,3"/>
<line x1="1606" y1="614.5" x2="1859" y2="614.5" stroke="#c0c0c0" stroke-width="1" stroke-dasharray="1.5,3"/>
<line x1="1606" y1="636.5" x2="1859" y2="636.5" stroke="#c0c0c0" stroke-width="1" stroke-dasharray="1.5,3"/>
<line x1="1606" y1="656.5" x2="1859" y2="656.5" stroke="#c0c0c0" stroke-width="1" stroke-dasharray="1.5,3"/>
<line x1="1606" y1="700.5" x2="1859" y2="700.5" stroke="#c0c0c0" stroke-width="1" stroke-dasharray="1.5,3"/>
<line x1="1606" y1="722.5" x2="1859" y2="722.5" stroke="#c0c0c0" stroke-width="1" stroke-dasharray="1.5,3"/>
<line x1="1606" y1="743.5" x2="1859" y2="743.5" stroke="#c0c0c0" stroke-width="1" stroke-dasharray="1.5,3"/>
<line x1="1606" y1="765.5" x2="1859" y2="765.5" stroke="#c0c0c0" stroke-width="1" stroke-dasharray="1.5,3"/>
<line x1="1606" y1="787.5" x2="1859" y2="787.5" stroke="#c0c0c0" stroke-width="1" stroke-dasharray="1.5,3"/>
<line x1="1606" y1="808.5" x2="1859" y2="808.5" stroke="#c0c0c0" stroke-width="1" stroke-dasharray="1.5,3"/>
<line x1="1606" y1="859.5" x2="1859" y2="859.5" stroke="#c0c0c0" stroke-width="1" stroke-dasharray="1.5,3"/>
<line x1="1606" y1="887.5" x2="1859" y2="887.5" stroke="#c0c0c0" stroke-width="1" stroke-dasharray="1.5,3"/>
<line x1="1606" y1="915.5" x2="1859" y2="915.5" stroke="#c0c0c0" stroke-width="1" stroke-dasharray="1.5,3"/>
<line x1="1668.5" y1="528" x2="1668.5" y2="932" stroke="#c0c0c0" stroke-width="1" stroke-dasharray="1.5,3"/>
<line x1="1796.5" y1="528" x2="1796.5" y2="932" stroke="#c0c0c0" stroke-width="1" stroke-dasharray="1.5,3"/>
<rect x="1604" y="527" width="255" height="1.5" fill="#c0c0c0"/>
<rect x="1604" y="679" width="255" height="1.5" fill="#bcbcbc"/>
<rect x="1604" y="830" width="255" height="1.5" fill="#bcbcbc"/>
<rect x="1730" y="527" width="1.5" height="406" fill="#bcbcbc"/>
<rect x="1859" y="527" width="1.5" height="406" fill="#9a9a9a"/>
<polyline points="1604.7,669.0 1606.0,620.0 1608.5,575.0 1609.4,560.3 1609.4,541.5 1610.0,543.2 1611.1,559.0 1612.2,545.3 1612.8,527.0 1641.0,527.0 1641.5,564.0 1643.0,541.2 1644.1,558.7 1645.2,543.5 1648.0,535.0 1651.0,564.0 1651.5,544.4 1652.6,560.9 1653.7,544.3 1654.8,561.5 1655.9,544.5 1656.5,538.3 1657.6,556.2 1658.7,543.9 1659.8,558.5 1660.9,539.3 1661.5,544.3 1662.6,553.0 1663.7,543.9 1664.8,556.7 1665.9,546.6 1667.0,559.1 1668.5,535.0 1677.0,552.6 1682.0,539.0 1683.0,527.0 1703.5,527.0 1704.0,532.9 1705.1,544.6 1706.2,528.0 1707.3,545.8 1708.5,530.3 1709.6,537.6 1710.7,529.8 1711.8,538.6 1712.9,531.7 1714.0,539.4 1715.5,527.0 1716.0,545.0 1719.5,542.4 1720.6,552.3 1721.7,540.3 1722.8,551.7 1725.0,545.0 1730.0,535.5 1732.5,541.0 1733.6,544.2 1734.7,540.4 1735.8,543.9 1736.9,540.6 1738.0,544.5 1739.1,541.2 1741.0,552.6 1745.5,536.4 1750.0,551.8 1754.5,577.4 1755.5,560.4 1756.5,579.3 1757.5,559.2 1758.5,576.5 1759.5,562.1 1760.5,574.5 1761.5,556.3 1762.5,572.0 1763.5,554.7 1764.5,577.6 1765.5,561.0 1766.5,580.2 1767.5,558.3 1768.5,581.3 1769.3,527.0 1769.5,529.2 1770.9,533.9 1772.3,528.9 1773.7,533.5 1775.1,528.0 1776.5,534.1 1777.9,529.0 1779.3,534.5 1780.7,528.5 1782.1,533.6 1783.5,530.1 1784.9,534.8 1786.3,529.2 1787.7,536.2 1789.1,529.3 1790.5,534.3 1791.9,530.3 1793.3,533.7 1794.7,527.9 1796.1,535.1 1797.5,529.2 1798.4,527.0 1813.7,527.0 1814.5,543.2 1814.5,542.5 1815.6,554.6 1816.7,543.3 1817.8,556.3 1819.0,568.0 1820.0,556.0 1820.5,542.7 1821.6,553.0 1822.7,543.1 1823.8,555.6 1824.9,544.4 1826.0,552.5 1827.1,542.8 1828.2,554.6 1829.3,545.2 1830.4,552.4 1831.0,560.6 1832.0,570.7 1833.0,555.9 1834.0,574.6 1835.0,556.6 1836.0,570.6 1837.0,561.8 1837.5,527.8 1839.0,537.3 1840.1,552.4 1841.2,537.8 1842.3,552.1 1843.4,539.3 1844.5,550.0 1845.6,538.0 1846.7,553.5 1847.8,538.9 1848.9,551.3 1850.0,539.8 1851.1,547.8 1853.0,527.0 1860.0,527.0" fill="none" stroke="#3a3a3a" stroke-width="2.2" stroke-linejoin="miter" stroke-miterlimit="2" shape-rendering="auto"/>
<polyline points="1604.7,669.2 1604.7,650.4 1620.5,595.2 1638.5,592.0 1641.0,586.0 1642.7,574.8 1646.0,571.8 1655.6,569.7 1668.4,567.1 1677.0,566.3 1682.0,563.7 1701.7,563.7 1704.3,561.6 1713.7,561.2 1723.0,559.4 1730.0,559.0 1779.6,557.7 1781.0,556.5 1796.7,556.0 1798.4,554.7 1851.4,555.2 1853.0,553.9 1859.0,553.9" fill="none" stroke="#1a7fd8" stroke-width="1.5" shape-rendering="auto"/>
<rect x="1604.4" y="840" width="1.5" height="92" fill="#f03030"/>
<rect x="1605.6" y="896" width="1.5" height="36" fill="#f03030"/>
<rect x="1606.8" y="891" width="1.5" height="41" fill="#f03030"/>
<rect x="1607.8" y="903" width="1.5" height="29" fill="#3a943a"/>
<rect x="1608.8" y="904" width="1.5" height="28" fill="#f03030"/>
<rect x="1609.8" y="907" width="1.5" height="25" fill="#8a5a30"/>
<rect x="1610.8" y="905" width="1.5" height="27" fill="#f03030"/>
<rect x="1611.8" y="894" width="1.5" height="38" fill="#333"/>
<rect x="1613.0" y="915" width="1.5" height="17" fill="#f03030"/>
<rect x="1615.0" y="922" width="1.5" height="10" fill="#3a943a"/>
<rect x="1637.5" y="846" width="1.5" height="86" fill="#3a943a"/>
<rect x="1638.7" y="877" width="1.5" height="55" fill="#3a943a"/>
<rect x="1639.9" y="915" width="1.5" height="17" fill="#f03030"/>
<rect x="1641.0" y="917" width="1.5" height="15" fill="#3a943a"/>
<rect x="1642.2" y="905" width="1.5" height="27" fill="#f03030"/>
<rect x="1643.4" y="914" width="1.5" height="18" fill="#3a943a"/>
<rect x="1644.6" y="920" width="1.5" height="12" fill="#3a943a"/>
<rect x="1646.0" y="924" width="1.5" height="8" fill="#f03030"/>
<rect x="1648.0" y="927" width="1.5" height="5" fill="#3a943a"/>
<rect x="1651.0" y="928" width="1.5" height="4" fill="#f03030"/>
<rect x="1656.0" y="926" width="1.5" height="6" fill="#f03030"/>
<rect x="1664.0" y="929" width="1.5" height="3" fill="#3a943a"/>
<rect x="1682.9" y="883" width="1.5" height="49" fill="#f03030"/>
<rect x="1701.0" y="921" width="1.5" height="11" fill="#333"/>
<rect x="1703.8" y="907" width="1.5" height="25" fill="#3a943a"/>
<rect x="1706.5" y="924" width="1.5" height="8" fill="#f03030"/>
<rect x="1715.2" y="919" width="1.5" height="13" fill="#333"/>
<rect x="1720.0" y="928" width="1.5" height="4" fill="#f03030"/>
<rect x="1727.0" y="929" width="1.5" height="3" fill="#3a943a"/>
<rect x="1753.0" y="925" width="1.5" height="7" fill="#3a943a"/>
<rect x="1757.0" y="922" width="1.5" height="10" fill="#3a943a"/>
<rect x="1770.4" y="898" width="1.5" height="34" fill="#f03030"/>
<rect x="1772.0" y="913" width="1.5" height="19" fill="#333"/>
<rect x="1775.0" y="921" width="1.5" height="11" fill="#f03030"/>
<rect x="1778.0" y="918" width="1.5" height="14" fill="#3a943a"/>
<rect x="1787.0" y="920" width="1.5" height="12" fill="#333"/>
<rect x="1797.5" y="926" width="1.5" height="6" fill="#f03030"/>
<rect x="1813.8" y="911" width="1.5" height="21" fill="#3a943a"/>
<rect x="1816.5" y="925" width="1.5" height="7" fill="#3a943a"/>
<rect x="1820.3" y="905" width="1.5" height="27" fill="#f03030"/>
<rect x="1829.0" y="922" width="1.5" height="10" fill="#3a943a"/>
<rect x="1832.0" y="924" width="1.5" height="8" fill="#3a943a"/>
<rect x="1839.5" y="903" width="1.5" height="29" fill="#f03030"/>
<rect x="1841.5" y="914" width="1.5" height="18" fill="#3a943a"/>
<rect x="1853.0" y="906" width="1.5" height="26" fill="#f03030"/>
<rect x="1855.8" y="915" width="1.5" height="17" fill="#f03030"/>
<rect x="1857.5" y="922" width="1.5" height="10" fill="#333"/>
<rect x="1540.5" y="891.5" width="41" height="19" fill="#fafafa" stroke="#c8c8c8"/>
<rect x="1539" y="912" width="64" height="1.5" fill="#c8c8c8"/>
</svg>
<div class="t" style="top:5.0px;font-size:15px;line-height:20px;color:#333;left:36.6px;">分时</div>
<div class="t" style="top:5.0px;font-size:15px;line-height:20px;color:#333;left:78.3px;">1分钟</div>
<div class="t" style="top:5.0px;font-size:15px;line-height:20px;color:#333;left:127.6px;">5分钟</div>
<div class="t" style="top:5.0px;font-size:15px;line-height:20px;color:#333;left:176.0px;">15分钟</div>
<div class="t" style="top:5.0px;font-size:15px;line-height:20px;color:#333;left:234.0px;">30分钟</div>
<div class="t" style="top:5.0px;font-size:15px;line-height:20px;color:#333;left:291.0px;">60分钟</div>
<div class="t" style="top:5.0px;font-size:15px;line-height:20px;color:#f02828;left:350.6px;">日线</div>
<div class="t" style="top:5.0px;font-size:15px;line-height:20px;color:#333;left:391.6px;">周线</div>
<div class="t" style="top:5.0px;font-size:15px;line-height:20px;color:#333;left:435.0px;">月线</div>
<div class="t" style="top:5.0px;font-size:15px;line-height:20px;color:#333;left:476.0px;">多周期</div>
<div class="t" style="top:5.0px;font-size:15px;line-height:20px;color:#333;left:530.0px;">更多 〉</div>
<div class="t" style="top:5.0px;font-size:15px;line-height:20px;color:#333;left:1258.0px;">复权</div>
<div class="t" style="top:5.0px;font-size:15px;line-height:20px;color:#333;left:1300.0px;">叠加</div>
<div class="t" style="top:30.5px;font-size:15px;line-height:20px;color:#333;left:6.0px;">西水股份 (日线)</div>
<div class="t" style="top:30.5px;font-size:15px;line-height:20px;color:#333;left:136.0px;">简易主图</div>
<div class="t" style="top:30.5px;font-size:15px;line-height:20px;color:#f52d2d;left:208.0px;">均价: 15.73</div>
<div class="t" style="top:30.5px;font-size:15px;line-height:20px;color:#f52d2d;left:298.3px;">明日涨停参考: 17.58</div>
<div class="t" style="top:30.5px;font-size:15px;line-height:20px;color:#f52d2d;left:448.7px;">价柱腰价: 15.20</div>
<div class="t" style="top:30.5px;font-size:15px;line-height:20px;color:#f52d2d;left:561.4px;">实体腰价: 15.29</div>
<div class="t" style="top:30.5px;font-size:15px;line-height:20px;color:#f52d2d;left:675.7px;">价柱上三一价: 15.46</div>
<div class="t" style="top:30.5px;font-size:15px;line-height:20px;color:#f52d2d;left:819.2px;">价柱下三一价: 14.94</div>
<div class="t" style="top:30.5px;font-size:15px;line-height:20px;color:#f52d2d;left:962.7px;">实体上三一价: 15.52</div>
<div class="t" style="top:30.5px;font-size:15px;line-height:20px;color:#f52d2d;left:1106.6px;">实体下三一价: 15.06</div>
<div class="t" style="top:30.5px;font-size:15px;line-height:20px;color:#909090;left:1257.6px;">WEI21: 15.29</div>
<div class="t" style="top:50.5px;font-size:15px;line-height:20px;color:#333;left:3.7px;"><span style="letter-spacing:0.83px">2020/07/16/四</span></div>
<div class="t" style="top:50.5px;font-size:15px;line-height:20px;color:#f05050;left:111.0px;">开14.60</div>
<div class="t" style="top:50.5px;font-size:15px;line-height:20px;color:#f05050;left:168.0px;">高15.99</div>
<div class="t" style="top:50.5px;font-size:15px;line-height:20px;color:#3c9c3c;left:226.4px;">低14.41</div>
<div class="t" style="top:50.5px;font-size:15px;line-height:20px;color:#f05050;left:283.0px;">收15.98</div>
<div class="t" style="top:50.5px;font-size:15px;line-height:20px;color:#333;left:340.3px;">量167.0万</div>
<div class="t" style="top:50.5px;font-size:15px;line-height:20px;color:#333;left:413.0px;">额26.3亿</div>
<div class="t" style="top:50.5px;font-size:15px;line-height:20px;color:#f05050;left:477.0px;">幅1.44(9.90%)</div>
<div class="t" style="top:50.5px;font-size:15px;line-height:20px;color:#333;left:579.6px;">换15.28%</div>
<div class="t" style="top:50.5px;font-size:15px;line-height:20px;color:#333;left:651.0px;">流通10.9亿</div>
<div class="t" style="top:50.5px;font-size:15px;line-height:20px;color:#333;left:730.0px;">保险</div>
<div class="t" style="top:80.0px;font-size:15px;line-height:20px;color:#444;left:12.5px;">所属板块:</div>
<div class="t" style="top:80.0px;font-size:15px;line-height:20px;color:#444;left:113.0px;">【行业】</div>
<div class="t" style="top:80.0px;font-size:15px;line-height:20px;color:#444;left:168.0px;">：</div>
<div class="t" style="top:80.0px;font-size:15px;line-height:20px;color:#444;left:187.0px;">保险</div>
<div class="t" style="top:80.0px;font-size:15px;line-height:20px;color:#444;left:258.0px;">【地域】</div>
<div class="t" style="top:80.0px;font-size:15px;line-height:20px;color:#444;left:313.0px;">：</div>
<div class="t" style="top:80.0px;font-size:15px;line-height:20px;color:#444;left:333.0px;">内蒙板块</div>
<div class="t" style="top:80.0px;font-size:15px;line-height:20px;color:#444;left:432.0px;">【概念】</div>
<div class="t" style="top:80.0px;font-size:15px;line-height:20px;color:#444;left:487.5px;">：</div>
<div class="t" style="top:80.0px;font-size:15px;line-height:20px;color:#444;left:508.0px;">互联金融</div>
<div class="t" style="top:109.0px;font-size:31px;line-height:40px;color:#ff0000;left:35.0px;font-weight:bold;letter-spacing:2.5px;">龙头密探・量学擒龙特战队</div>
<div class="t" style="top:185.5px;font-size:31px;line-height:40px;color:#ff0000;left:95.7px;font-weight:bold;letter-spacing:2.5px;">过峰保顶行情<span style="margin-left:-8px;margin-right:8px">：</span>主冲段</div>
<div class="t" style="top:511.0px;font-size:13px;line-height:17px;color:#222;left:321.5px;">8.41</div>
<div class="t" style="top:76.8px;font-size:15px;line-height:20px;color:#555;left:1424.8px;">15.99</div>
<div class="t" style="top:164.5px;font-size:14px;line-height:19px;color:#222;left:1410.0px;">14.22</div>
<div class="t" style="top:246.5px;font-size:14px;line-height:19px;color:#222;left:1410.0px;">12.86</div>
<div class="t" style="top:628.5px;font-size:15px;line-height:20px;color:#555;left:825.6px;">6.57</div>
<div class="t" style="top:630.0px;font-size:15px;line-height:20px;color:#777;left:3.0px;">用到未来数据</div>
<div class="t" style="top:648.0px;font-size:14px;line-height:16px;color:#fff;left:12.5px;">跌</div>
<div class="t" style="top:648.0px;font-size:14px;line-height:16px;color:#fff;left:826.5px;">财</div>
<div class="t" style="top:649.5px;font-size:13px;line-height:16px;color:#fff;left:1392.0px;">榜</div>
<div class="t" style="top:155.5px;font-size:15px;line-height:20px;color:#8a8a8a;left:1558.0px;">14.54</div>
<div class="t" style="top:241.5px;font-size:15px;line-height:20px;color:#8a8a8a;left:1558.0px;">13.09</div>
<div class="t" style="top:508.5px;font-size:15px;line-height:20px;color:#8a8a8a;left:1558.0px;">8.59</div>
<div class="t" style="top:704.5px;font-size:15px;line-height:20px;color:#8a8a8a;right:326.0px;">15000</div>
<div class="t" style="top:768.5px;font-size:15px;line-height:20px;color:#8a8a8a;right:326.0px;">10000</div>
<div class="t" style="top:833.5px;font-size:15px;line-height:20px;color:#8a8a8a;right:326.0px;">5000</div>
<div class="t" style="top:891.5px;font-size:15px;line-height:20px;color:#888;left:1545.0px;">X100</div>
<div class="t" style="top:913.0px;font-size:15px;line-height:20px;color:#333;left:1556.0px;">日线</div>
<div class="t" style="top:666.0px;font-size:15px;line-height:20px;color:#444;left:25.0px;">假阴线公式(5,10)&nbsp; VVOL: 1669997.25</div>
<div class="t" style="top:666.0px;font-size:15px;line-height:20px;color:#1e8ce6;left:290.0px;letter-spacing:0.31px;">VOLUME: 1669997.25</div>
<div class="t" style="top:874.5px;font-size:15px;line-height:20px;color:#22c3d5;left:21.3px;">2</div>
<div class="t" style="top:859.5px;font-size:15px;line-height:20px;color:#22c3d5;left:284.1px;">3</div>
<div class="t" style="top:847.1px;font-size:15px;line-height:20px;color:#22c3d5;left:336.7px;">3</div>
<div class="t" style="top:868.3px;font-size:15px;line-height:20px;color:#22c3d5;left:468.1px;">3</div>
<div class="t" style="top:868.3px;font-size:15px;line-height:20px;color:#22c3d5;left:520.7px;">3</div>
<div class="t" style="top:871.2px;font-size:15px;line-height:20px;color:#22c3d5;left:704.6px;">3</div>
<div class="t" style="top:872.1px;font-size:15px;line-height:20px;color:#22c3d5;left:757.2px;">3</div>
<div class="t" style="top:871.2px;font-size:15px;line-height:20px;color:#22c3d5;left:796.6px;">3</div>
<div class="t" style="top:844.6px;font-size:15px;line-height:20px;color:#22c3d5;left:1072.5px;">3</div>
<div class="t" style="top:855.8px;font-size:15px;line-height:20px;color:#22c3d5;left:1138.2px;">3</div>
<div class="t" style="top:852.1px;font-size:15px;line-height:20px;color:#22c3d5;left:1230.2px;">3</div>
<div class="t" style="top:913.5px;font-size:15px;line-height:20px;color:#8a8a8a;left:7.5px;">2020年</div>
<div class="t" style="top:913.5px;font-size:15px;line-height:20px;color:#8a8a8a;left:285.0px;">3</div>
<div class="t" style="top:913.5px;font-size:15px;line-height:20px;color:#8a8a8a;left:572.5px;">4</div>
<div class="t" style="top:913.5px;font-size:15px;line-height:20px;color:#8a8a8a;left:849.5px;">5</div>
<div class="t" style="top:913.5px;font-size:15px;line-height:20px;color:#8a8a8a;left:1086.5px;">6</div>
<div class="t" style="top:913.5px;font-size:15px;line-height:20px;color:#8a8a8a;left:1349.0px;">7</div>
<div class="t" style="top:6.5px;font-size:12px;line-height:14px;color:#f04040;left:1653.5px;font-weight:bold;">R</div>
<div class="t" style="top:20.5px;font-size:12px;line-height:14px;color:#f04040;left:1648.0px;">500</div>
<div class="t" style="top:6.5px;font-size:19px;line-height:25px;color:#333;left:1667.8px;letter-spacing:0.36px;">600291 西水股份</div>
<div class="t" style="top:3.5px;font-size:14px;line-height:19px;color:#00d8f0;left:1812.0px;">波段</div>
<div class="t" style="top:37.6px;font-size:17px;line-height:23px;color:#333;left:1606.0px;">委比</div>
<div class="t" style="top:37.6px;font-size:17px;line-height:23px;color:#3c9c3c;right:163.0px;">-89.14%</div>
<div class="t" style="top:37.6px;font-size:17px;line-height:23px;color:#333;left:1766.0px;">委差</div>
<div class="t" style="top:37.6px;font-size:17px;line-height:23px;color:#3c9c3c;right:2.0px;">-7785</div>
<div class="t" style="top:61.0px;font-size:17px;line-height:23px;color:#333;left:1606.0px;">卖五</div>
<div class="t" style="top:85.0px;font-size:17px;line-height:23px;color:#333;left:1606.0px;">卖四</div>
<div class="t" style="top:109.0px;font-size:17px;line-height:23px;color:#333;left:1606.0px;">卖三</div>
<div class="t" style="top:135.0px;font-size:17px;line-height:23px;color:#333;left:1606.0px;">卖二</div>
<div class="t" style="top:135.0px;font-size:17px;line-height:23px;color:#f05050;right:163.0px;">15.99</div>
<div class="t" style="top:135.0px;font-size:17px;line-height:23px;color:#333;right:2.0px;">3725</div>
<div class="t" style="top:159.0px;font-size:17px;line-height:23px;color:#333;left:1606.0px;">卖一</div>
<div class="t" style="top:159.0px;font-size:17px;line-height:23px;color:#f05050;right:163.0px;">15.98</div>
<div class="t" style="top:159.0px;font-size:17px;line-height:23px;color:#333;right:2.0px;">4534</div>
<div class="t" style="top:186.0px;font-size:17px;line-height:23px;color:#333;left:1606.0px;">买一</div>
<div class="t" style="top:186.0px;font-size:17px;line-height:23px;color:#f05050;right:163.0px;">15.98</div>
<div class="t" style="top:186.0px;font-size:17px;line-height:23px;color:#333;right:2.0px;">145</div>
<div class="t" style="top:209.0px;font-size:17px;line-height:23px;color:#333;left:1606.0px;">买二</div>
<div class="t" style="top:209.0px;font-size:17px;line-height:23px;color:#f05050;right:163.0px;">15.96</div>
<div class="t" style="top:209.0px;font-size:17px;line-height:23px;color:#333;right:2.0px;">20</div>
<div class="t" style="top:232.0px;font-size:17px;line-height:23px;color:#333;left:1606.0px;">买三</div>
<div class="t" style="top:232.0px;font-size:17px;line-height:23px;color:#f05050;right:163.0px;">15.95</div>
<div class="t" style="top:232.0px;font-size:17px;line-height:23px;color:#333;right:2.0px;">280</div>
<div class="t" style="top:256.0px;font-size:17px;line-height:23px;color:#333;left:1606.0px;">买四</div>
<div class="t" style="top:256.0px;font-size:17px;line-height:23px;color:#f05050;right:163.0px;">15.93</div>
<div class="t" style="top:256.0px;font-size:17px;line-height:23px;color:#333;right:2.0px;">1</div>
<div class="t" style="top:280.0px;font-size:17px;line-height:23px;color:#333;left:1606.0px;">买五</div>
<div class="t" style="top:280.0px;font-size:17px;line-height:23px;color:#f05050;right:163.0px;">15.92</div>
<div class="t" style="top:280.0px;font-size:17px;line-height:23px;color:#333;right:2.0px;">28</div>
<div class="t" style="top:306.0px;font-size:17px;line-height:23px;color:#333;left:1606.0px;">现价</div>
<div class="t" style="top:306.0px;font-size:17px;line-height:23px;color:#f05050;right:163.0px;">15.98</div>
<div class="t" style="top:306.0px;font-size:17px;line-height:23px;color:#333;left:1767.0px;">今开</div>
<div class="t" style="top:306.0px;font-size:17px;line-height:23px;color:#f05050;right:2.0px;">14.60</div>
<div class="t" style="top:330.0px;font-size:17px;line-height:23px;color:#333;left:1606.0px;">涨跌</div>
<div class="t" style="top:330.0px;font-size:17px;line-height:23px;color:#f05050;right:163.0px;">1.44</div>
<div class="t" style="top:330.0px;font-size:17px;line-height:23px;color:#333;left:1767.0px;">最高</div>
<div class="t" style="top:330.0px;font-size:17px;line-height:23px;color:#f05050;right:2.0px;">15.99</div>
<div class="t" style="top:354.0px;font-size:17px;line-height:23px;color:#333;left:1606.0px;">涨幅</div>
<div class="t" style="top:354.0px;font-size:17px;line-height:23px;color:#f05050;right:163.0px;">9.90%</div>
<div class="t" style="top:354.0px;font-size:17px;line-height:23px;color:#333;left:1767.0px;">最低</div>
<div class="t" style="top:354.0px;font-size:17px;line-height:23px;color:#3c9c3c;right:2.0px;">14.41</div>
<div class="t" style="top:378.0px;font-size:17px;line-height:23px;color:#333;left:1606.0px;">总量</div>
<div class="t" style="top:378.0px;font-size:17px;line-height:23px;color:#333;right:163.0px;">167.0万</div>
<div class="t" style="top:378.0px;font-size:17px;line-height:23px;color:#333;left:1767.0px;">量比</div>
<div class="t" style="top:378.0px;font-size:17px;line-height:23px;color:#f05050;right:2.0px;">1.81</div>
<div class="t" style="top:401.5px;font-size:17px;line-height:23px;color:#333;left:1606.0px;">外盘</div>
<div class="t" style="top:401.5px;font-size:17px;line-height:23px;color:#f05050;right:163.0px;">782374</div>
<div class="t" style="top:401.5px;font-size:17px;line-height:23px;color:#333;left:1767.0px;">内盘</div>
<div class="t" style="top:401.5px;font-size:17px;line-height:23px;color:#3c9c3c;right:2.0px;">884623</div>
<div class="t" style="top:428.0px;font-size:17px;line-height:23px;color:#333;left:1606.0px;">换手</div>
<div class="t" style="top:428.0px;font-size:17px;line-height:23px;color:#333;right:163.0px;">15.28%</div>
<div class="t" style="top:428.0px;font-size:17px;line-height:23px;color:#333;left:1767.0px;">股本</div>
<div class="t" style="top:428.0px;font-size:17px;line-height:23px;color:#333;right:2.0px;">10.9亿</div>
<div class="t" style="top:451.5px;font-size:17px;line-height:23px;color:#333;left:1606.0px;">净资</div>
<div class="t" style="top:451.5px;font-size:17px;line-height:23px;color:#333;right:163.0px;">9.68</div>
<div class="t" style="top:451.5px;font-size:17px;line-height:23px;color:#333;left:1767.0px;">流通</div>
<div class="t" style="top:451.5px;font-size:17px;line-height:23px;color:#333;right:2.0px;">10.9亿</div>
<div class="t" style="top:474.6px;font-size:17px;line-height:23px;color:#333;left:1606.0px;">收益(一)</div>
<div class="t" style="top:474.6px;font-size:17px;line-height:23px;color:#333;right:163.0px;">0.137</div>
<div class="t" style="top:474.6px;font-size:17px;line-height:23px;color:#333;left:1767.0px;">PE(动)</div>
<div class="t" style="top:474.6px;font-size:17px;line-height:23px;color:#333;right:2.0px;">29.2</div>
<div class="t" style="top:504.5px;font-size:15px;line-height:20px;color:#333;left:1606.0px;">西水股份</div>
<div class="t" style="top:518.5px;font-size:15px;line-height:20px;color:#f05050;left:1862.0px;">15.99</div>
<div class="t" style="top:540.1px;font-size:15px;line-height:20px;color:#f05050;left:1862.0px;">15.78</div>
<div class="t" style="top:561.2px;font-size:15px;line-height:20px;color:#f05050;left:1862.0px;">15.58</div>
<div class="t" style="top:582.1px;font-size:15px;line-height:20px;color:#f05050;left:1862.0px;">15.37</div>
<div class="t" style="top:604.5px;font-size:15px;line-height:20px;color:#f05050;left:1862.0px;">15.16</div>
<div class="t" style="top:626.0px;font-size:15px;line-height:20px;color:#f05050;left:1862.0px;">14.95</div>
<div class="t" style="top:647.0px;font-size:15px;line-height:20px;color:#f05050;left:1862.0px;">14.75</div>
<div class="t" style="top:670.2px;font-size:15px;line-height:20px;color:#333;left:1862.0px;">14.54</div>
<div class="t" style="top:691.0px;font-size:15px;line-height:20px;color:#3c9c3c;left:1862.0px;">14.33</div>
<div class="t" style="top:712.0px;font-size:15px;line-height:20px;color:#3c9c3c;left:1862.0px;">14.13</div>
<div class="t" style="top:733.5px;font-size:15px;line-height:20px;color:#3c9c3c;left:1862.0px;">13.92</div>
<div class="t" style="top:755.5px;font-size:15px;line-height:20px;color:#3c9c3c;left:1862.0px;">13.71</div>
<div class="t" style="top:777.1px;font-size:15px;line-height:20px;color:#3c9c3c;left:1862.0px;">13.50</div>
<div class="t" style="top:798.5px;font-size:15px;line-height:20px;color:#3c9c3c;left:1862.0px;">13.30</div>
<div class="t" style="top:821.1px;font-size:15px;line-height:20px;color:#333;left:1862.0px;">109725</div>
<div class="t" style="top:849.1px;font-size:15px;line-height:20px;color:#333;left:1862.0px;">82294</div>
<div class="t" style="top:877.2px;font-size:15px;line-height:20px;color:#333;left:1862.0px;">54863</div>
<div class="t" style="top:905.1px;font-size:15px;line-height:20px;color:#333;left:1862.0px;">27431</div>
<div class="bx" style="left:949px;top:78px;width:430px;height:61px"></div>
<div class="t" style="top:82.3px;font-size:15px;line-height:20px;color:#1414ff;left:955.0px;letter-spacing:0.37px;">量学云讲堂·龙头密探 2020/7/16 13:42:26</div>
<div class="t" style="top:106.5px;font-size:22px;line-height:28px;color:#ff0000;left:976.5px;font-weight:bold;letter-spacing:5.0px;-webkit-text-stroke:0.2px #ff0000;">西水股份继续板，量放大，可减仓</div>
<div class="bx" style="left:1544px;top:76px;width:285px;height:62px"></div>
<div class="t" style="top:82.2px;font-size:15px;line-height:20px;color:#1414ff;left:1546.8px;letter-spacing:0.37px;">量学云讲堂·龙头密探 2020/7/16 9:37:32</div>
<div class="t" style="top:105.9px;font-size:22px;line-height:28px;color:#ff0000;left:1567.5px;font-weight:bold;letter-spacing:5.0px;-webkit-text-stroke:0.2px #ff0000;">西水股份目标价已达</div>
<div class="bx" style="left:1568px;top:184px;width:292px;height:63px"></div>
<div class="t" style="top:188.9px;font-size:15px;line-height:20px;color:#1414ff;left:1574.5px;letter-spacing:0.37px;">量学云讲堂·龙头密探 2020/7/15 13:39:31</div>
<div class="t" style="top:212.5px;font-size:22px;line-height:28px;color:#ff0000;left:1595.0px;font-weight:bold;letter-spacing:5.0px;-webkit-text-stroke:0.2px #ff0000;">西水股份龙头</div>
<div class="bx" style="left:966px;top:230px;width:275px;height:62px"></div>
<div class="t" style="top:235.7px;font-size:15px;line-height:20px;color:#1414ff;left:970.8px;letter-spacing:0.37px;">量学云讲堂·龙头密探 2020/7/7 9:34:40</div>
<div class="t" style="top:260.3px;font-size:22px;line-height:28px;color:#ff0000;left:992.8px;font-weight:bold;letter-spacing:5.0px;-webkit-text-stroke:0.2px #ff0000;">西水股份再板</div>
<div class="bx" style="left:824px;top:309px;width:311px;height:61px"></div>
<div class="t" style="top:314.0px;font-size:15px;line-height:20px;color:#1414ff;left:828.0px;letter-spacing:0.37px;">量学云讲堂·龙头密探 2020/6/17 14:48:50</div>
<div class="t" style="top:338.2px;font-size:22px;line-height:28px;color:#ff0000;left:849.3px;font-weight:bold;letter-spacing:5.0px;-webkit-text-stroke:0.2px #ff0000;">西水股份波段趋势未改</div>
<div class="bx" style="left:755px;top:380px;width:353px;height:59px"></div>
<div class="t" style="top:383.3px;font-size:15px;line-height:20px;color:#1414ff;left:759.3px;letter-spacing:0.37px;">量学云讲堂·龙头密探 2020/6/9 10:09:26</div>
<div class="t" style="top:407.5px;font-size:22px;line-height:28px;color:#ff0000;left:780.0px;font-weight:bold;letter-spacing:5.0px;-webkit-text-stroke:0.2px #ff0000;">西水股份可以盯着波段操盘</div>
<div class="bx" style="left:740px;top:446px;width:290px;height:60px"></div>
<div class="t" style="top:450.3px;font-size:15px;line-height:20px;color:#1414ff;left:745.2px;letter-spacing:0.37px;">量学云讲堂·龙头密探 2020/5/28 9:44:18</div>
<div class="t" style="top:474.5px;font-size:22px;line-height:28px;color:#ff0000;left:765.9px;font-weight:bold;letter-spacing:5.0px;-webkit-text-stroke:0.2px #ff0000;">西水股份保险新秀</div>
<div class="bx" style="left:868px;top:602px;width:287px;height:56px"></div>
<div class="t" style="top:600.9px;font-size:15px;line-height:20px;color:#1414ff;left:873.0px;letter-spacing:0.37px;">量学云讲堂·龙头密探 2020/4/30 9:49:12</div>
<div class="t" style="top:624.8px;font-size:22px;line-height:28px;color:#ff0000;left:894.3px;font-weight:bold;letter-spacing:5.0px;-webkit-text-stroke:0.2px #ff0000;">西水股份板</div>
<div class="bx" style="left:1190px;top:561px;width:432px;height:91px"></div>
<div class="t" style="top:565.8px;font-size:15px;line-height:20px;color:#1414ff;left:1195.2px;letter-spacing:0.37px;">量学云讲堂·龙头密探 2020/6/8 9:43:04</div>
<div class="t" style="top:590.4px;font-size:22px;line-height:28px;color:#ff0000;left:1216.3px;font-weight:bold;letter-spacing:5.0px;-webkit-text-stroke:0.2px #ff0000;">西水股份黄金线上阳盖阴，量波站</div>
<div class="t" style="top:622.0px;font-size:22px;line-height:28px;color:#ff0000;left:1215.0px;font-weight:bold;letter-spacing:5.0px;-webkit-text-stroke:0.2px #ff0000;">稳是伏击点</div>
<div class="bx" style="left:1448px;top:313px;width:288px;height:55px"></div>
<div class="t" style="top:315.2px;font-size:15px;line-height:20px;color:#1414ff;left:1455.0px;letter-spacing:0.37px;">量学云讲堂·龙头密探 2020/7/6 10:19:32</div>
<div class="t" style="top:339.7px;font-size:22px;line-height:28px;color:#ff0000;left:1475.6px;font-weight:bold;letter-spacing:5.0px;-webkit-text-stroke:0.2px #ff0000;">西水股份板了</div>
<div class="bx" style="left:1451px;top:384px;width:279px;height:51px"></div>
<div class="t" style="top:384.3px;font-size:15px;line-height:20px;color:#1414ff;left:1456.0px;letter-spacing:0.37px;">量学云讲堂·龙头密探 2020/7/3 9:44:35</div>
<div class="t" style="top:407.5px;font-size:22px;line-height:28px;color:#ff0000;left:1477.4px;font-weight:bold;letter-spacing:5.0px;-webkit-text-stroke:0.2px #ff0000;">西水股份龙头</div>
<div class="bx" style="left:1431px;top:445px;width:298px;height:58px"></div>
<div class="t" style="top:446.9px;font-size:15px;line-height:20px;color:#1414ff;left:1437.0px;letter-spacing:0.37px;">量学云讲堂·龙头密探 2020/7/2 13:16:57</div>
<div class="t" style="top:471.5px;font-size:22px;line-height:28px;color:#ff0000;left:1458.8px;font-weight:bold;letter-spacing:5.0px;-webkit-text-stroke:0.2px #ff0000;">西水股份波段趋势没改</div>
<svg width="1922" height="936" viewBox="0 0 1922 936">
<line x1="1379.6" y1="104.6" x2="1471.3" y2="95.0" stroke="#ff0000" stroke-width="1.15"/>
<polygon points="1481.2,94 1466.9,101.0 1471.3,95.0 1465.7,90.1" fill="#ff0000"/>
<line x1="1541" y1="101" x2="1505.9" y2="95.5" stroke="#ff0000" stroke-width="1.15"/>
<polygon points="1496,94 1511.7,90.9 1505.9,95.5 1510.0,101.7" fill="#ff0000"/>
<line x1="1566" y1="223.8" x2="1500.2" y2="196.4" stroke="#ff0000" stroke-width="1.15"/>
<polygon points="1491,192.5 1507.0,193.2 1500.2,196.4 1502.7,203.4" fill="#ff0000"/>
<line x1="1243" y1="253" x2="1379.0" y2="250.8" stroke="#ff0000" stroke-width="1.15"/>
<polygon points="1389,250.6 1374.1,256.3 1379.0,250.8 1373.9,245.3" fill="#ff0000"/>
<line x1="1123" y1="369" x2="1230.7" y2="471.1" stroke="#ff0000" stroke-width="1.15"/>
<polygon points="1238,478 1223.3,471.7 1230.7,471.1 1230.9,463.7" fill="#ff0000"/>
<line x1="1068.6" y1="438" x2="1151.0" y2="489.7" stroke="#ff0000" stroke-width="1.15"/>
<polygon points="1159.5,495 1143.9,491.7 1151.0,489.7 1149.7,482.4" fill="#ff0000"/>
<line x1="999.7" y1="505" x2="1045.0" y2="539.0" stroke="#ff0000" stroke-width="1.15"/>
<polygon points="1053,545 1037.7,540.4 1045.0,539.0 1044.3,531.6" fill="#ff0000"/>
<line x1="870.3" y1="624" x2="850.1" y2="604.0" stroke="#ff0000" stroke-width="1.15"/>
<polygon points="843,597 857.5,603.6 850.1,604.0 849.8,611.5" fill="#ff0000"/>
<line x1="1190" y1="598" x2="1162.3" y2="545.8" stroke="#ff0000" stroke-width="1.15"/>
<polygon points="1157.6,537 1169.5,547.7 1162.3,545.8 1159.8,552.8" fill="#ff0000"/>
<line x1="1446.5" y1="337" x2="1404.7" y2="328.9" stroke="#ff0000" stroke-width="1.15"/>
<polygon points="1394.9,327 1410.7,324.5 1404.7,328.9 1408.6,335.3" fill="#ff0000"/>
<line x1="1450.5" y1="413.3" x2="1391.5" y2="395.0" stroke="#ff0000" stroke-width="1.15"/>
<polygon points="1382,392 1398.0,391.2 1391.5,395.0 1394.7,401.7" fill="#ff0000"/>
<line x1="1430.8" y1="468.3" x2="1381.0" y2="455.1" stroke="#ff0000" stroke-width="1.15"/>
<polygon points="1371.3,452.5 1387.2,451.0 1381.0,455.1 1384.4,461.7" fill="#ff0000"/>
<rect x="1321" y="0.75" width="287" height="32.5" rx="11" fill="#fff" stroke="#ff0000" stroke-width="1.5"/>
<rect x="0" y="0" width="1922" height="1" fill="#ff0000" shape-rendering="crispEdges"/>
<rect x="0" y="0" width="1" height="936" fill="#ff0000" shape-rendering="crispEdges"/>
<rect x="1" y="3" width="1" height="932" fill="#3a7070" shape-rendering="crispEdges"/>
<rect x="1921" y="0" width="1" height="936" fill="#ff0000" shape-rendering="crispEdges"/>
<rect x="0" y="935" width="1922" height="1" fill="#ff0000" shape-rendering="crispEdges"/>
</svg>
<div class="t" style="left:1335px;top:8px;line-height:26px;font-size:19px;font-weight:bold;color:#0000f0;-webkit-text-stroke:0.3px #0000f0"><span style="letter-spacing:1.8px">西水股份</span><span style="letter-spacing:0.45px">20200716</span><span style="letter-spacing:1.8px">日像留影</span></div>
<svg width="1922" height="936" viewBox="0 0 1922 936"><defs><filter id="sh" x="-20%" y="-20%" width="140%" height="140%"><feGaussianBlur in="SourceAlpha" stdDeviation="1.6"/><feOffset dx="2.5" dy="2.5"/><feComponentTransfer><feFuncA type="linear" slope="0.45"/></feComponentTransfer><feMerge><feMergeNode/><feMergeNode in="SourceGraphic"/></feMerge></filter></defs><g transform="translate(1775,50) skewX(-7) scale(0.79,1)" filter="url(#sh)" style="font-family:'Liberation Sans',sans-serif" font-size="40" font-weight="bold"><text x="0" y="0" fill="#3c3c3c" stroke="#3c3c3c" stroke-width="4.4" stroke-linejoin="round">股海明灯</text><text x="0" y="0" fill="#fff" stroke="#fff" stroke-width="1.6" stroke-linejoin="round">股海明灯</text></g></svg>
</body></html>
